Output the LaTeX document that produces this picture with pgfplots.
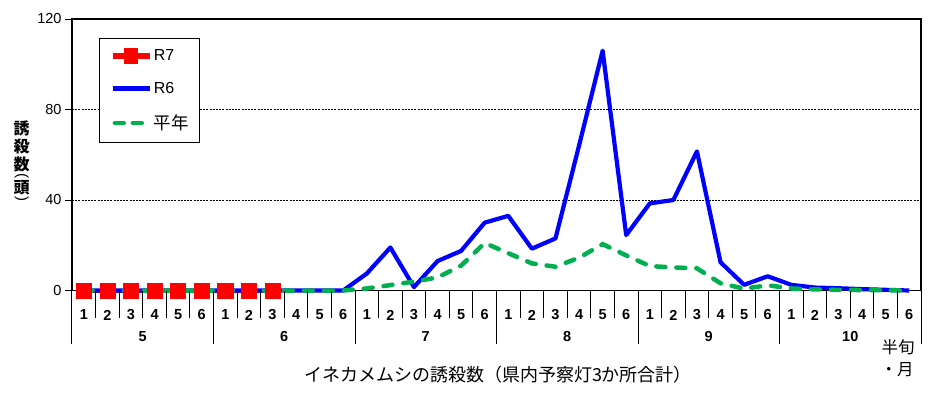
\documentclass[border=0pt]{standalone}
\usepackage{fontspec}
\setmainfont{Liberation Sans}
\newfontfamily\jp{Noto Sans CJK JP}
\usepackage{graphicx}
\usepackage{pgfplots}
\pgfplotsset{compat=1.18}
\usepackage{pgfplotstable}

\pgfplotstableread{
x r7
0.5 0
1.5 0
2.5 0
3.5 0
4.5 0
5.5 0
6.5 0
7.5 0
8.5 0
}\rseven

\pgfplotstableread{
x r6 avg
0.5 0 0
1.5 0 0
2.5 0 0
3.5 0 0
4.5 0 0
5.5 0 0
6.5 0 0
7.5 0 0
8.5 0 0
9.5 0 0
10.5 0 0
11.5 0 0
12.5 7.5 0.9
13.5 19 2.4
14.5 1.5 3.9
15.5 13 5.8
16.5 17.5 11
17.5 30 21
18.5 33 16.5
19.5 18.5 12
20.5 23 10.5
21.5 64 14.5
22.5 106 20.5
23.5 24.5 15.5
24.5 38.5 10.8
25.5 40 10.2
26.5 61.5 9.8
27.5 12.5 3.2
28.5 2.5 0.8
29.5 6.3 2.3
30.5 2.5 0.9
31.5 1.3 0.5
32.5 1 0.3
33.5 0.6 0.2
34.5 0.3 0.1
35.5 0 0
}\rsix

\definecolor{exblue}{RGB}{0,0,255}
\definecolor{exgreen}{RGB}{0,176,80}
\definecolor{exred}{RGB}{255,0,0}

\begin{document}
\begin{tikzpicture}
\fill[white] (0pt,0pt) rectangle (935pt,-394pt);
\begin{axis}[
  at={(72pt,-290.5pt)}, anchor=south west,
  scale only axis, width=849pt, height=271.5pt,
  xmin=0, xmax=36, ymin=0, ymax=120,
  clip=false,
  axis line style={line width=1.1pt, black},
  ytick={0,40,80,120},
  ytick pos=left, tick align=outside,
  major tick length=7pt,
  ytick style={black, line width=1pt},
  yticklabel style={font=\fontsize{14.5}{16}\selectfont},
  /pgf/number format/assume math mode=true,
  ymajorgrids, y grid style={black, line width=0.7pt, dash pattern=on 2pt off 1.2pt},
  xtick={0.5,1.5,...,35.5},
  xtick style={draw=none},
  xticklabels={1,2,3,4,5,6,1,2,3,4,5,6,1,2,3,4,5,6,1,2,3,4,5,6,1,2,3,4,5,6,1,2,3,4,5,6},
  xticklabel style={font=\bfseries\fontsize{14.5}{16}\selectfont, anchor=center, yshift=-17.5pt},
  legend style={at={(axis description cs:0.0322,0.929)}, anchor=north west,
    draw=black, line width=1pt, fill=white, inner xsep=10pt, inner ysep=9pt,
    font=\fontsize{16}{18}\selectfont, row sep=16pt,
    nodes={inner xsep=1pt, inner ysep=2pt}},
  legend cell align=left,
]
\addplot[exred, line width=4pt, mark=square*, mark size=7.6pt, mark options={solid, draw=exred, fill=exred, line width=0.5pt},
  legend image code/.code={\draw[exred, line width=6pt] (0pt,0pt) -- (37pt,0pt); \fill[exred] (13.5pt,-6pt) rectangle (23.5pt,6pt);}]
  table[x=x, y=r7] {\rseven};
\addlegendentry{R7}
\addplot[exblue, line width=4.2pt, line join=round,
  legend image code/.code={\draw[exblue, line width=4.5pt] (0pt,0pt) -- (37pt,0pt);}]
  table[x=x, y=r6] {\rsix};
\addlegendentry{R6}
\addplot[exgreen, line width=4.5pt, line cap=round, dash pattern=on 9pt off 11pt,
  legend image code/.code={\draw[exgreen, line width=4.5pt, line cap=round, dash pattern=on 9pt off 9pt] (2pt,0pt) -- (37pt,0pt);}]
  table[x=x, y=avg] {\rsix};
\addlegendentry{{\jp\fontsize{17.5}{18}\selectfont 平年}}
\pgfplotsinvokeforeach{1,...,35}{\draw[black, line width=1pt] (axis cs:#1,0) -- ++(0pt,-27.5pt);}
\pgfplotsinvokeforeach{0,6,...,36}{\draw[black, line width=1pt] (axis cs:#1,0) -- ++(0pt,-53.5pt);}
\node[font=\bfseries\fontsize{14.5}{16}\selectfont, yshift=-46pt] at (axis cs:3,0) {5};
\node[font=\bfseries\fontsize{14.5}{16}\selectfont, yshift=-46pt] at (axis cs:9,0) {6};
\node[font=\bfseries\fontsize{14.5}{16}\selectfont, yshift=-46pt] at (axis cs:15,0) {7};
\node[font=\bfseries\fontsize{14.5}{16}\selectfont, yshift=-46pt] at (axis cs:21,0) {8};
\node[font=\bfseries\fontsize{14.5}{16}\selectfont, yshift=-46pt] at (axis cs:27,0) {9};
\node[font=\bfseries\fontsize{14.5}{16}\selectfont, yshift=-46pt] at (axis cs:33,0) {10};
\end{axis}
\node[font=\jp\fontsize{18}{20}\selectfont] at (498pt,-375pt) {イネカメムシの誘殺数（県内予察灯3か所合計）};
\node[font=\jp\fontsize{16.5}{18}\selectfont] at (898pt,-347pt) {半旬};
\node[font=\jp\fontsize{16.5}{18}\selectfont] at (897pt,-370pt) {・月};
\begin{scope}[every node/.style={font=\jp\bfseries\fontsize{16}{17}\selectfont, inner sep=0pt}]
\node at (21.7pt,-128.3pt) {誘};
\node at (21.7pt,-146.7pt) {殺};
\node at (21.7pt,-164pt) {数};
\node[rotate=-90, font=\fontsize{15}{16}\selectfont] at (21.7pt,-176.3pt) {(};
\node at (21.7pt,-188pt) {頭};
\node[rotate=-90, font=\fontsize{15}{16}\selectfont] at (21.7pt,-199pt) {)};
\end{scope}
\pgfresetboundingbox
\path (0pt,0pt) rectangle (935pt,-394pt);
\end{tikzpicture}
\end{document}
